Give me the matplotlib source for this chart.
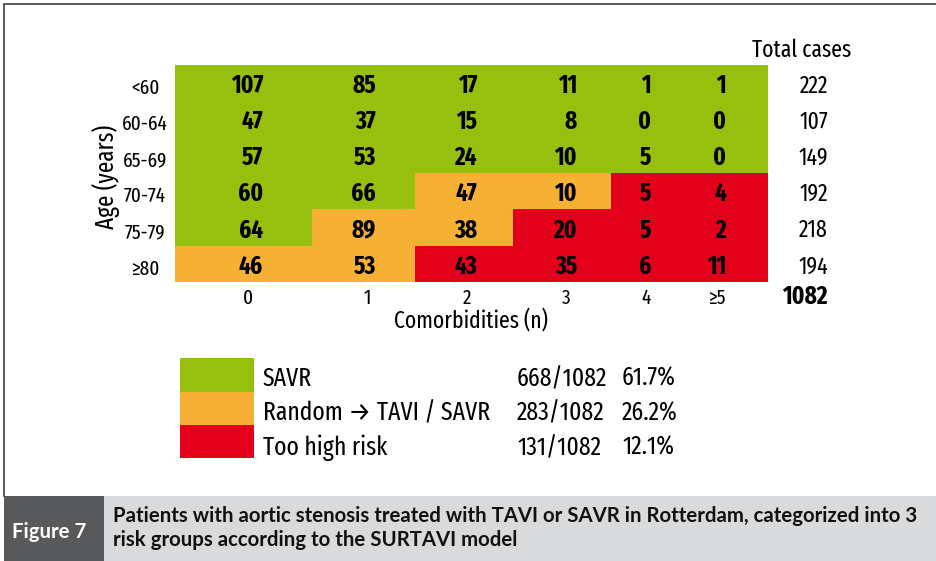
#!/usr/bin/env python3
# SURTAVI risk-group table (Figure 7): case counts by age group and
# number of comorbidities, coloured by treatment group.

import matplotlib
matplotlib.use("Agg")
import matplotlib.pyplot as plt
import numpy as np
from matplotlib.colors import ListedColormap
from matplotlib.patches import Rectangle

AGE_GROUPS = ["<60", "60-64", "65-69", "70-74", "75-79", "≥80"]
COMORBIDITIES = ["0", "1", "2", "3", "4", "≥5"]
CASES = [
    [107, 85, 17, 11, 1, 1],
    [47, 37, 15, 8, 0, 0],
    [57, 53, 24, 10, 5, 0],
    [60, 66, 47, 10, 5, 4],
    [64, 89, 38, 20, 5, 2],
    [46, 53, 43, 35, 6, 11],
]
# 0 = SAVR, 1 = random TAVI/SAVR, 2 = too high risk
RISK = [
    [0, 0, 0, 0, 0, 0],
    [0, 0, 0, 0, 0, 0],
    [0, 0, 0, 0, 0, 0],
    [0, 0, 1, 1, 2, 2],
    [0, 1, 1, 2, 2, 2],
    [1, 1, 2, 2, 2, 2],
]
GROUP_LABELS = ["SAVR", "Random → TAVI / SAVR", "Too high risk"]
GROUP_COLORS = ["#97BF0D", "#F6B034", "#E2001A"]
CAPTION_TAG = "Figure 7"
CAPTION = ("Patients with aortic stenosis treated with TAVI or SAVR in "
           "Rotterdam, categorized into 3\n"
           "risk groups according to the SURTAVI model")

# Layout, in pixels of the 936x561 canvas
W, H = 936, 561
X_EDGES = [175, 312, 415, 513, 611, 683, 768]
Y_EDGES = [65, 101, 137, 173, 209, 246, 282]
NUM_RIGHT = [263, 376, 477, 577, 651, 726]
TICK_X = [248, 367, 467, 566, 646, 717]

FAM = ["Fira Sans Extra Condensed", "DejaVu Sans"]
CAP_FAM = ["Lato", "DejaVu Sans"]

cases = np.array(CASES)
risk = np.array(RISK)
row_tot = cases.sum(axis=1)
grand = cases.sum()
grp_tot = [cases[risk == g].sum() for g in range(len(GROUP_LABELS))]

fig = plt.figure(figsize=(W / 100, H / 100), dpi=100)
ax = fig.add_axes([0, 0, 1, 1])
ax.set_xlim(0, W)
ax.set_ylim(H, 0)
ax.axis("off")

# Coloured cells
ax.pcolormesh(X_EDGES, Y_EDGES, risk, cmap=ListedColormap(GROUP_COLORS),
              vmin=-0.5, vmax=2.5, shading="flat")

row_mid = [(Y_EDGES[i] + Y_EDGES[i + 1]) / 2 for i in range(len(AGE_GROUPS))]
for i, label in enumerate(AGE_GROUPS):
    for j, v in enumerate(CASES[i]):
        ax.text(NUM_RIGHT[j], row_mid[i] + 10, str(v), ha="right",
                va="baseline", fontsize=18, fontweight="bold", family=FAM)
    ax.text(145, row_mid[i] + 11, label, ha="center", va="baseline",
            fontsize=15, family=FAM)
    ax.text(828, row_mid[i] + 9.5, str(row_tot[i]), ha="right",
            va="baseline", fontsize=17, family=FAM)

for j, label in enumerate(COMORBIDITIES):
    ax.text(TICK_X[j], 304, label, ha="center", va="baseline",
            fontsize=15, family=FAM)
ax.text(828, 304, str(grand), ha="right", va="baseline", fontsize=18,
        fontweight="bold", family=FAM)
ax.text(802, 57, "Total cases", ha="center", va="baseline", fontsize=17,
        family=FAM)
ax.text(471, 328, "Comorbidities (n)", ha="center", va="baseline",
        fontsize=17, family=FAM)
ax.text(106, 177, "Age (years)", ha="center", va="center", rotation=90,
        fontsize=18, family=FAM)

# Legend
leg_top = [358, 392, 425]
leg_h = [34, 33, 33]
leg_base = [386, 420.5, 455]
for g, label in enumerate(GROUP_LABELS):
    ax.add_patch(Rectangle((180, leg_top[g]), 74, leg_h[g],
                           facecolor=GROUP_COLORS[g], edgecolor="none"))
    ax.text(263, leg_base[g], label, ha="left", va="baseline",
            fontsize=18.5, family=FAM)
    ax.text(517, leg_base[g], f"{grp_tot[g]}/{grand}", ha="left",
            va="baseline", fontsize=18.5, family=FAM)
    ax.text(622, leg_base[g], f"{100 * grp_tot[g] / grand:.1f}%",
            ha="left", va="baseline", fontsize=18.5, family=FAM)

# Frame and caption band
ax.plot([W, 4, 4], [4, 4, 496], color="#404040", lw=1.2,
        solid_joinstyle="miter")
ax.add_patch(Rectangle((4, 496), W - 4, H - 496, facecolor="#D9DADB",
                       edgecolor="none"))
ax.add_patch(Rectangle((4, 496), 100, H - 496, facecolor="#58595B",
                       edgecolor="none"))
ax.text(49, 538, CAPTION_TAG, ha="center", va="baseline", color="white",
        fontsize=14.7, fontweight="bold", family=CAP_FAM)
cap_lines = CAPTION.split("\n")
for k, line in enumerate(cap_lines):
    ax.text(113, 522 + 24 * k, line, ha="left", va="baseline",
            color="#111111", fontsize=14.7, fontweight="bold",
            family=CAP_FAM)

fig.savefig("out.png", dpi=100)
